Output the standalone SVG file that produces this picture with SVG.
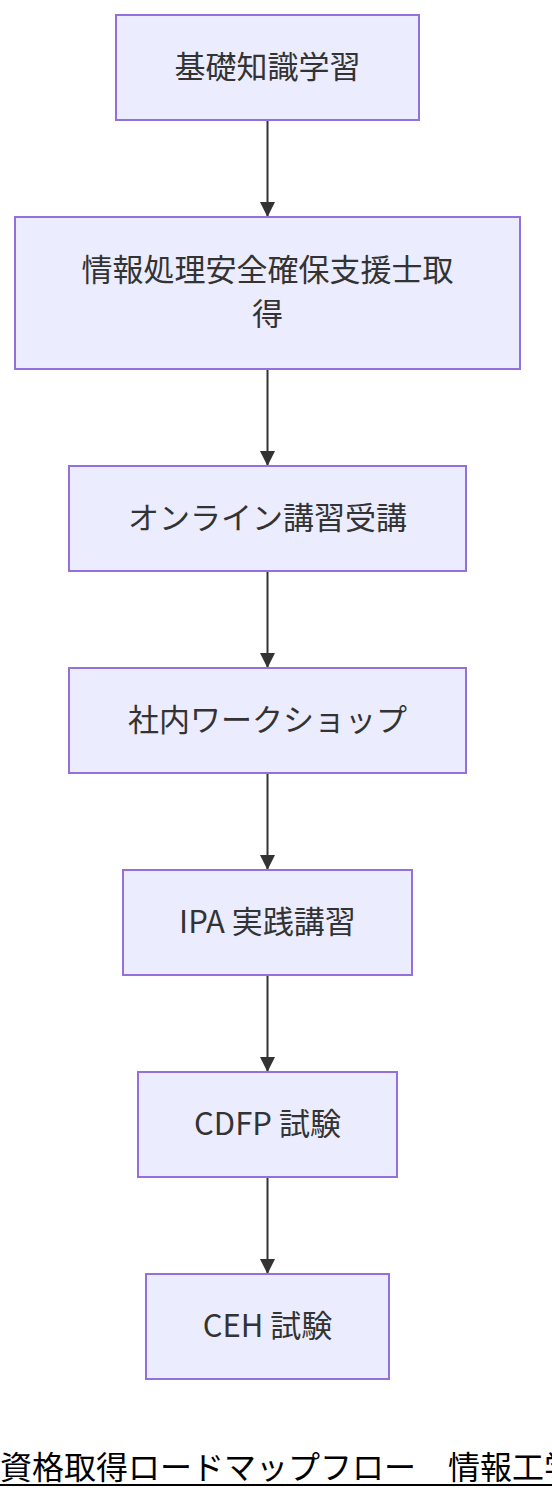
<svg xmlns="http://www.w3.org/2000/svg" width="552" height="1500" viewBox="0 0 552 1500">
<style>
.node rect{fill:#ECECFF;stroke:#9370DB;stroke-width:2}
.node text{font-family:"Noto Sans CJK JP","Noto Sans",sans-serif;font-size:31px;fill:#333;text-anchor:middle;dominant-baseline:central}
.edges path{stroke:#333;stroke-width:2;fill:none}
.title{font-family:"Noto Sans CJK JP",sans-serif;font-size:32px;fill:#000}
</style>
<defs>
<marker id="arrow" viewBox="0 0 10 10" refX="10" refY="5" markerWidth="15" markerHeight="16" markerUnits="userSpaceOnUse" orient="auto">
<path d="M0,0 L10,5 L0,10 z" fill="#333"/>
</marker>
</defs>
<rect width="552" height="1500" fill="#fff"/>
<g class="edges">
<path d="M267.5,121 V217" marker-end="url(#arrow)"/>
<path d="M267.5,370 V466" marker-end="url(#arrow)"/>
<path d="M267.5,572 V668" marker-end="url(#arrow)"/>
<path d="M267.5,774 V870" marker-end="url(#arrow)"/>
<path d="M267.5,976 V1072" marker-end="url(#arrow)"/>
<path d="M267.5,1178 V1274" marker-end="url(#arrow)"/>
</g>
<g id="n1" class="node"><rect x="116" y="15" width="303" height="105"/><text x="267.5" y="64">基礎知識学習</text></g>
<g id="n2" class="node"><rect x="15" y="217" width="505" height="152"/><text x="267.5" y="267">情報処理安全確保支援士取</text><text x="267.5" y="311">得</text></g>
<g id="n3" class="node"><rect x="69" y="466" width="397" height="105"/><text x="267.5" y="515">オンライン講習受講</text></g>
<g id="n4" class="node"><rect x="69" y="668" width="397" height="105"/><text x="267.5" y="717">社内ワークショップ</text></g>
<g id="n5" class="node"><rect x="123" y="870" width="289" height="105"/><text x="267.5" y="919">IPA 実践講習</text></g>
<g id="n6" class="node"><rect x="138" y="1072" width="259" height="105"/><text x="267.5" y="1121">CDFP 試験</text></g>
<g id="n7" class="node"><rect x="146" y="1274" width="243" height="105"/><text x="267.5" y="1323">CEH 試験</text></g>
<g id="title">
<text class="title" x="0" y="1479">資格取得ロードマップフロー　情報工学</text>
<line x1="0" y1="1485" x2="552" y2="1485" stroke="#000" stroke-width="2"/>
</g>
</svg>
